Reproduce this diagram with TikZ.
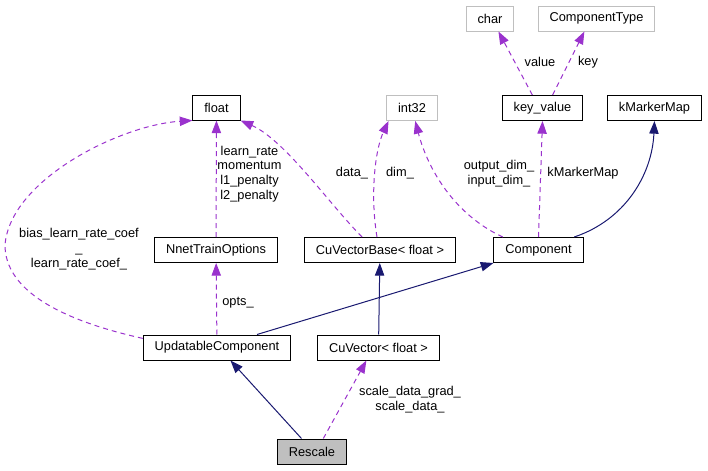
\documentclass[tikz,border=0pt]{standalone}
\usepackage{fontspec}
\setmainfont{Liberation Sans}
\usepackage{xcolor}
\usetikzlibrary{arrows.meta}
\definecolor{memberpurple}{HTML}{9A32CD}
\definecolor{basenavy}{HTML}{191970}
\definecolor{boxgray}{HTML}{BFBFBF}

\begin{document}
\begin{tikzpicture}[x=0.75pt,y=-0.75pt,
    font=\fontsize{9.6}{11}\selectfont,
    cls/.style={draw=black,line width=0.75pt,inner xsep=8.6pt,inner ysep=0pt,minimum height=18.75pt},
    ext/.style={cls,draw=boxgray},
    usage/.style={memberpurple,line width=0.75pt,dash pattern=on 3.75pt off 3pt,-{Triangle[length=9.5pt,width=7pt]}},
    inherit/.style={basenavy,line width=0.75pt,-{Triangle[length=9.5pt,width=7pt]}},
    lbl/.style={align=center,inner sep=0pt}]
    \useasboundingbox (0,0) rectangle (708,471);
    \node[cls] (float) at (216.5,107.5) {float};
    \node[ext] (char) at (490,18.5) {char};
    \node[ext] (ctype) at (596.5,18.5) {ComponentType};
    \node[ext] (int32) at (412,108) {int32};
    \node[cls] (kv) at (542.5,108) {key\_value};
    \node[cls] (kmm) at (654.5,108) {kMarkerMap};
    \node[cls] (nnet) at (216,250) {NnetTrainOptions};
    \node[cls] (cvb) at (380,250) {CuVectorBase< float >};
    \node[cls] (comp) at (538.5,250) {Component};
    \node[cls] (upd) at (217,347.5) {UpdatableComponent};
    \node[cls] (cv) at (378.5,347.5) {CuVector< float >};
    \node[cls,fill=boxgray] (resc) at (312,451.5) {Rescale};

    \draw[usage] (upd.173) .. controls (60,320) and (5,290) .. (5,245)
        .. controls (10,180) and (120,125) .. (float.south west);
    \draw[usage] (nnet) -- (float);
    \draw[usage] (upd) -- (nnet);
    \draw[usage] (cvb.144) .. controls (330,205) and (285,140) .. (float.south east);
    \draw[usage] (cvb.103) .. controls (370,195) and (375,150) .. (int32.209);
    \draw[usage] (comp.160) .. controls (455,215) and (428,170) .. (int32.284);
    \draw[usage] (comp.north) -- (kv.south);
    \draw[usage] (kv.128) -- (char.303);
    \draw[usage] (kv.52) -- (ctype.227);
    \draw[inherit] (comp.20) .. controls (625,220) and (652,175) .. (kmm.south);
    \draw[inherit] (upd.18) -- (comp.south west);
    \draw[inherit] (cv) -- (cvb);
    \draw[inherit] (resc.129) -- (upd.316);
    \draw[usage] (resc.49) -- (cv.227);

    \node[lbl] (lblbias) at (79,249) {bias\_learn\_rate\_coef\\\_\\learn\_rate\_coef\_};
    \node[lbl] (lblopts) at (249.5,174) {learn\_rate\\momentum\\l1\_penalty\\l2\_penalty};
    \node[lbl] (lbldata) at (352,173) {data\_};
    \node[lbl] (lbldim) at (400,173) {dim\_};
    \node[lbl] (lblinout) at (499,173.5) {output\_dim\_\\input\_dim\_};
    \node[lbl] (lblkmm) at (583,173) {kMarkerMap};
    \node[lbl] (lblvalue) at (540,62) {value};
    \node[lbl] (lblkey) at (588,62) {key};
    \node[lbl] (lblnnet) at (238,303) {opts\_};
    \node[lbl] (lblscale) at (410,399.5) {scale\_data\_grad\_\\scale\_data\_};
\end{tikzpicture}
\end{document}
